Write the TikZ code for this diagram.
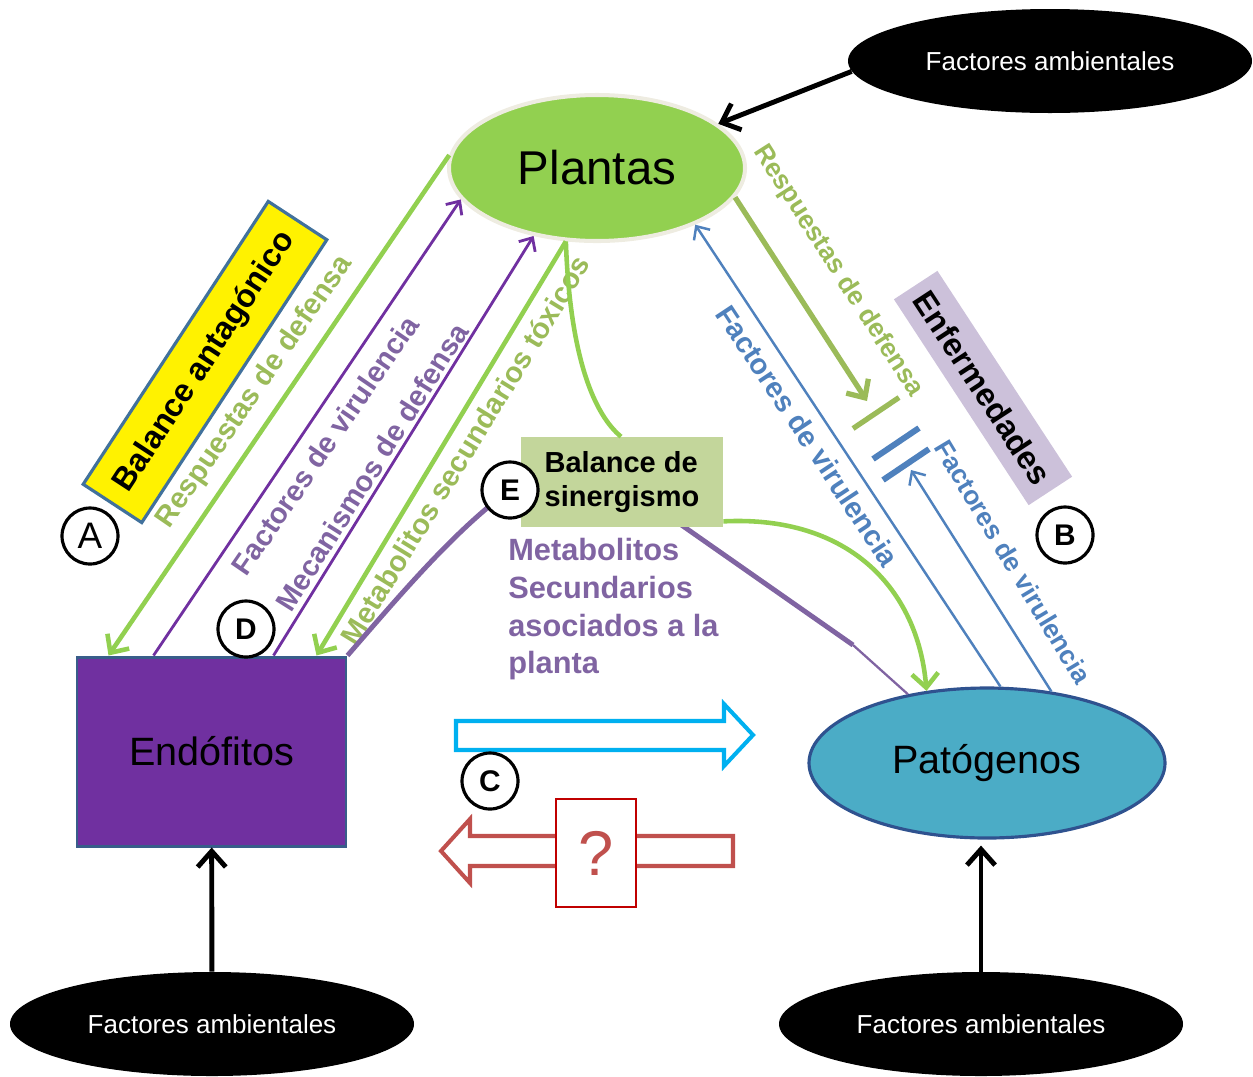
\documentclass[tikz,border=0pt]{standalone}
\usepackage{fontspec}
\setmainfont{Liberation Sans}
\usetikzlibrary{shapes.geometric,arrows.meta,calc}

\newlength\pxu
\setlength\pxu{0.02cm}

\definecolor{plantgreen}{HTML}{92D050}
\definecolor{plantrim}{HTML}{EEECE1}
\definecolor{olive}{HTML}{9BBB59}
\definecolor{violet}{HTML}{7030A0}
\definecolor{lavtxt}{HTML}{8064A2}
\definecolor{bluetxt}{HTML}{4F81BD}
\definecolor{patoblue}{HTML}{4BACC6}
\definecolor{patoedge}{HTML}{2F528F}
\definecolor{endoedge}{HTML}{385D8A}
\definecolor{yedge}{HTML}{41719C}
\definecolor{enflav}{HTML}{CCC1DA}
\definecolor{sinbox}{HTML}{C3D69B}
\definecolor{cyanarrow}{HTML}{00B0F0}
\definecolor{redarrow}{HTML}{C0504D}
\definecolor{redbox}{HTML}{C00000}

\begin{document}
\begin{tikzpicture}[x=0.02cm, y=-0.02cm,
  amb/.style={ellipse, fill=black, text=white, inner sep=0,
    minimum width=404\pxu, minimum height=104\pxu, font=\fontsize{14.8}{17}\selectfont},
  blk/.style={line width=2.8pt, -{Straight Barb[length=9pt,width=16pt]}},
  grn/.style={draw=plantgreen, line width=2.6pt, -{Straight Barb[length=8pt,width=15pt]}},
  prp/.style={draw=violet, line width=1.6pt, -{Straight Barb[length=6pt,width=11pt]}},
  blu/.style={draw=bluetxt, line width=1.4pt, -{Straight Barb[length=6pt,width=11pt]}},
  diag/.style={inner sep=0, font=\bfseries\fontsize{16.5}{18}\selectfont},
  diags/.style={inner sep=0, font=\bfseries\fontsize{15}{17}\selectfont},
  letra/.style={circle, draw, fill=white, line width=1.8pt, inner sep=0,
    minimum size=56\pxu, font=\bfseries\fontsize{17}{17}\selectfont}]
\useasboundingbox (0,0) rectangle (1253,1076);

% main nodes
\node[ellipse, fill=plantgreen, draw=plantrim, line width=2.3pt, inner sep=0,
  minimum width=296\pxu, minimum height=146\pxu,
  font=\fontsize{27}{30}\selectfont] (plantas) at (597,168) {Plantas};
\node[fill=violet, draw=endoedge, line width=1.7pt,
  minimum width=269\pxu, minimum height=189\pxu,
  font=\fontsize{22.5}{25}\selectfont] (endo) at (211.5,751.5) {Endófitos};
\node[ellipse, fill=patoblue, draw=patoedge, line width=1.8pt, inner sep=0,
  minimum width=356\pxu, minimum height=150\pxu,
  font=\fontsize{22.5}{25}\selectfont] (pato) at (987,763) {\raisebox{-4pt}{Patógenos}};

\node[amb] (ambT) at (1050,61) {Factores ambientales};
\node[amb] (ambL) at (212,1024) {Factores ambientales};
\node[amb] (ambR) at (981,1024) {Factores ambientales};

% environment
\draw[blk] (ambT.183) -- (plantas.20);
\draw[blk] (ambL) -- (endo);
\draw[blk, shorten >=6\pxu] (ambR.north) -- (ambR.north |- pato.south);

% plantas <-> endofitos
\draw[grn] (plantas.175) -- ($(endo.north west)+(33,0)$);
\draw[prp] ($(endo.north west)+(78,0)$) -- (plantas.193);
\draw[prp] ($(endo.north west)+(198,0)$) -- (plantas.227);
\draw[grn] (plantas.247) -- ($(endo.north west)+(241,0)$);

\node[diag, text=olive, rotate=55.5] (rdL) at (255,392) {Respuestas de defensa};
\node[diag, text=lavtxt, rotate=55.5] (fvL) at (325,445) {Factores de virulencia};
\node[diag, text=lavtxt, rotate=57.8] (mdL) at (372,467) {Mecanismos de defensa};
\node[diag, text=olive, rotate=58.5] (msL) at (465,450) {Metabolitos secundarios tóxicos};

\node[rotate=56.8, fill=yellow, draw=yedge, line width=1.8pt,
  minimum width=338\pxu, minimum height=70\pxu,
  font=\bfseries\fontsize{18.3}{21}\selectfont] (antag) at (205,362) {Balance antagónico};

% plantas <-> patogenos
\coordinate (gtip) at (867,401);
\coordinate (gbar) at (876,413);
\coordinate (bbar1) at (896,443.5);
\coordinate (bbar2) at (906,464.5);
\coordinate (btip) at (911,470);

\draw[draw=olive, line width=3pt, -{Straight Barb[length=8pt,width=15pt]}] (plantas.348) -- (gtip);
\draw[olive, line width=3pt] ($(gbar)+(-23,15.5)$) -- ($(gbar)+(23,-15.5)$);
\draw[bluetxt, line width=3.4pt] ($(bbar1)+(-23,15.5)$) -- ($(bbar1)+(23,-15.5)$);
\draw[bluetxt, line width=3.4pt] ($(bbar2)+(-23,15.5)$) -- ($(bbar2)+(23,-15.5)$);
\draw[blu] (pato.80) -- (plantas.330);
\draw[blu] (pato.48) -- (btip);

\node[diags, text=olive, rotate=-57.5] (rdR) at (838,271) {Respuestas de defensa};
\node[diag, text=bluetxt, rotate=-56.5] (fvM) at (808,436) {Factores de virulencia};
\node[diags, text=bluetxt, rotate=-59] (fvR) at (1013,562) {Factores de virulencia};

\node[rotate=-56.8, fill=enflav, minimum width=246\pxu, minimum height=52\pxu,
  font=\bfseries\fontsize{18.5}{20}\selectfont] (enf) at (983,388) {Enfermedades};

% sinergismo
\coordinate (eC) at (510,490);
\coordinate (mp) at (853,645);
\draw[lavtxt, line width=2.8pt] (endo.north east) .. controls (400,595) and (455,530) .. (eC)
  -- (660,510) -- (mp);
\draw[lavtxt, line width=1.3pt] (mp) -- (pato.139);

\node[fill=sinbox, minimum width=202\pxu, minimum height=90\pxu, align=left,
  font=\bfseries\fontsize{16.5}{19.5}\selectfont] (sin) at (622,482) {Balance de\\sinergismo};
\node[anchor=north west, align=left, inner sep=0, text=lavtxt,
  font=\bfseries\fontsize{17.5}{21.5}\selectfont] (msec) at (508,538)
  {Metabolitos\\Secundarios\\asociados a la\\planta};

\draw[draw=plantgreen, line width=2.6pt] (plantas.247) .. controls (570,360) and (595,415) .. ($(sin.north)+(-1,0)$);
\draw[grn] ($(sin.south east)+(0,-6)$) .. controls (850,515) and (918,590) .. (pato.130);

% C
\draw[cyanarrow, line width=2.3pt, fill=white] (456,721) -- (724,721) -- (724,704) -- (753,735)
  -- (724,766) -- (724,750) -- (456,750) -- cycle;
\draw[redarrow, line width=2.3pt, fill=white] (733,836) -- (470,836) -- (470,819) -- (441,851)
  -- (470,883) -- (470,866) -- (733,866) -- cycle;
\node[draw=redbox, fill=white, line width=1.1pt, minimum width=80\pxu, minimum height=108\pxu,
  text=redarrow, font=\fontsize{36}{40}\selectfont] (q) at (596,853) {?};

% letters
\node[letra, font=\fontsize{21}{21}\selectfont] (A) at (90,536) {A};
\node[letra] (B) at (1065,535) {B};
\node[letra] (C) at (490,781) {C};
\node[letra] (D) at (246,629) {D};
\node[letra] (E) at (eC) {E};
\end{tikzpicture}
\end{document}
